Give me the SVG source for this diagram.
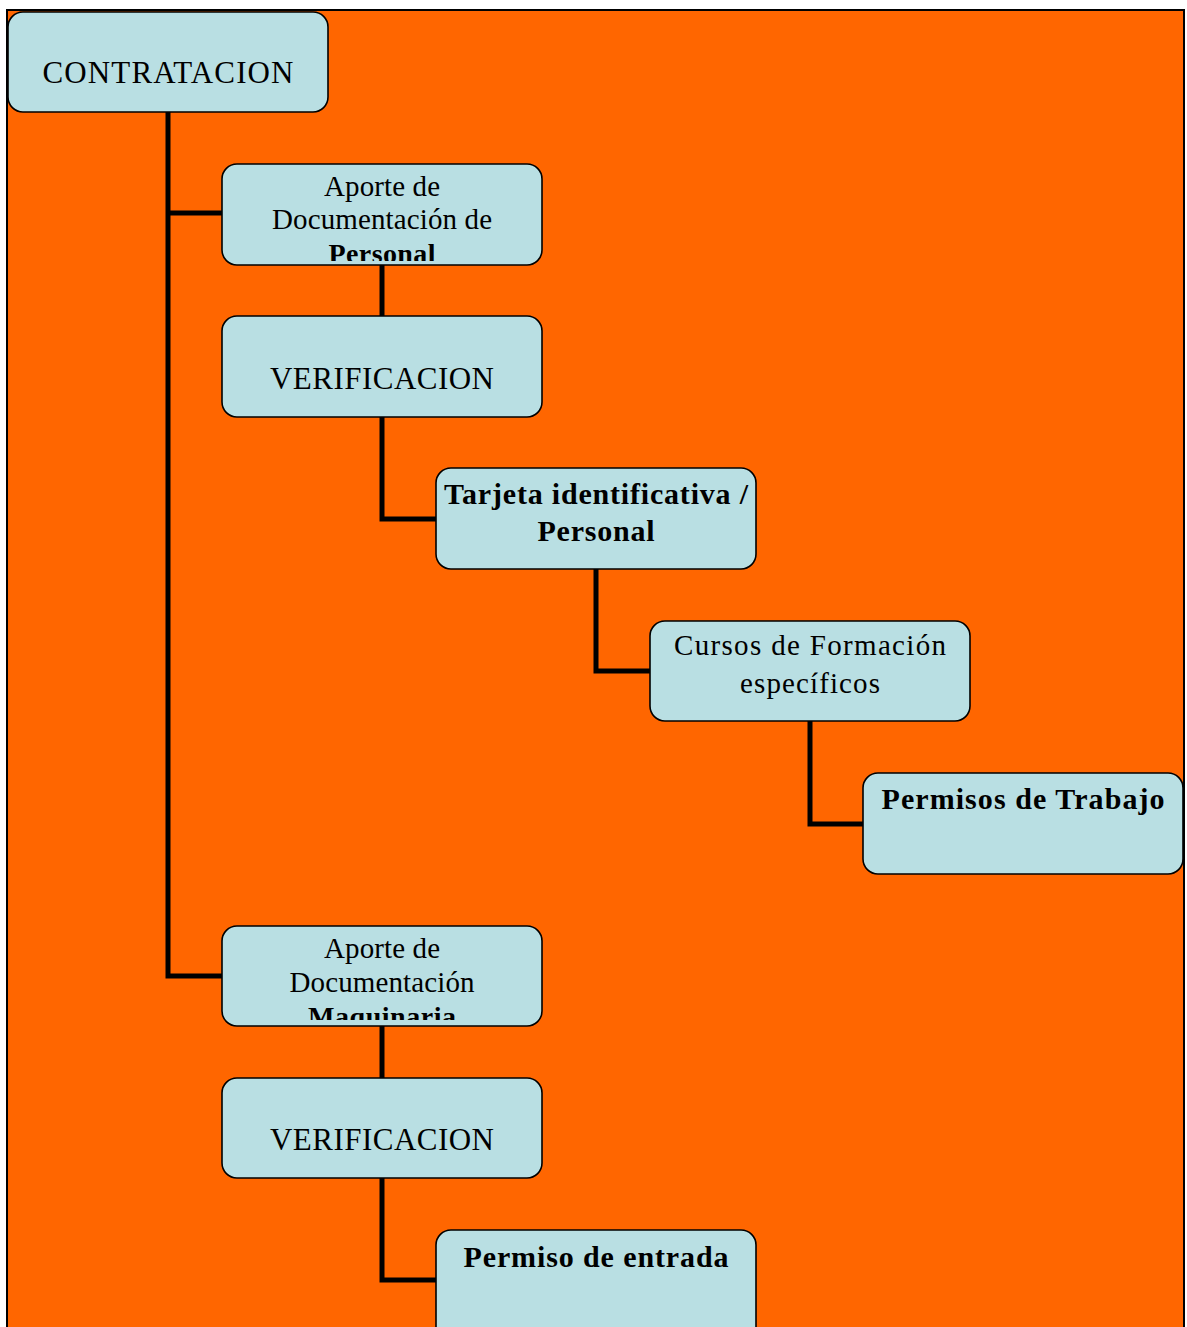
<svg xmlns="http://www.w3.org/2000/svg" width="1187" height="1327" viewBox="0 0 1187 1327">
<style>
.node{fill:#B9DFE3;stroke:#000;stroke-width:1.6}
.t{font-family:"Liberation Serif","Times New Roman",serif;fill:#000;text-anchor:middle}
.n{font-size:29px}
.c{font-size:31px}
.b{font-size:30px;font-weight:bold}
.conn{fill:none;stroke:#000;stroke-width:5}
</style>
<defs>
<clipPath id="clipP"><rect x="223" y="165" width="318" height="96"/></clipPath>
<clipPath id="clipM"><rect x="223" y="927" width="318" height="93"/></clipPath>
</defs>
<rect x="0" y="0" width="1187" height="1327" fill="#fff"/>
<rect x="7" y="10" width="1177" height="1330" fill="#FF6600" stroke="#000" stroke-width="2"/>
<g id="connectors">
<path class="conn" d="M168,112 V976 H222"/>
<path class="conn" d="M168,213 H222"/>
<path class="conn" d="M382,265 V316"/>
<path class="conn" d="M382,417 V519 H436"/>
<path class="conn" d="M596,569 V671 H650"/>
<path class="conn" d="M810,721 V824 H863"/>
<path class="conn" d="M382,1026 V1078"/>
<path class="conn" d="M382,1178 V1280 H436"/>
</g>
<g id="contratacion">
<rect class="node" x="8" y="12" width="320" height="100" rx="15"/>
<text class="t c" x="168" y="83" textLength="251" lengthAdjust="spacing">CONTRATACION</text>
</g>
<g id="aporte-personal">
<rect class="node" x="222" y="164" width="320" height="101" rx="15"/>
<text class="t n" x="382" y="196" textLength="116" lengthAdjust="spacing">Aporte de</text>
<text class="t n" x="382" y="229" textLength="220" lengthAdjust="spacing">Documentación de</text>
<text class="t b" x="382" y="263" clip-path="url(#clipP)" textLength="107" lengthAdjust="spacing" style="font-size:28px">Personal</text>
</g>
<g id="verificacion-1">
<rect class="node" x="222" y="316" width="320" height="101" rx="15"/>
<text class="t c" x="382" y="389" textLength="224" lengthAdjust="spacing">VERIFICACION</text>
</g>
<g id="tarjeta">
<rect class="node" x="436" y="468" width="320" height="101" rx="15"/>
<text class="t b" x="596" y="504" textLength="304" lengthAdjust="spacing">Tarjeta identificativa /</text>
<text class="t b" x="596" y="541" textLength="117" lengthAdjust="spacing">Personal</text>
</g>
<g id="cursos">
<rect class="node" x="650" y="621" width="320" height="100" rx="15"/>
<text class="t n" x="810" y="655" textLength="272" lengthAdjust="spacing">Cursos de Formación</text>
<text class="t n" x="810" y="693" textLength="140" lengthAdjust="spacing">específicos</text>
</g>
<g id="permisos-trabajo">
<rect class="node" x="863" y="773" width="320" height="101" rx="15"/>
<text class="t b" x="1023" y="809" textLength="283" lengthAdjust="spacing">Permisos de Trabajo</text>
</g>
<g id="aporte-maquinaria">
<rect class="node" x="222" y="926" width="320" height="100" rx="15"/>
<text class="t n" x="382" y="958" textLength="116" lengthAdjust="spacing">Aporte de</text>
<text class="t n" x="382" y="992" textLength="185" lengthAdjust="spacing">Documentación</text>
<text class="t b" x="382" y="1026" clip-path="url(#clipM)" textLength="148" lengthAdjust="spacing" style="font-size:28px">Maquinaria</text>
</g>
<g id="verificacion-2">
<rect class="node" x="222" y="1078" width="320" height="100" rx="15"/>
<text class="t c" x="382" y="1150" textLength="224" lengthAdjust="spacing">VERIFICACION</text>
</g>
<g id="permiso-entrada">
<rect class="node" x="436" y="1230" width="320" height="120" rx="15"/>
<text class="t b" x="596" y="1267" textLength="265" lengthAdjust="spacing">Permiso de entrada</text>
</g>
</svg>
